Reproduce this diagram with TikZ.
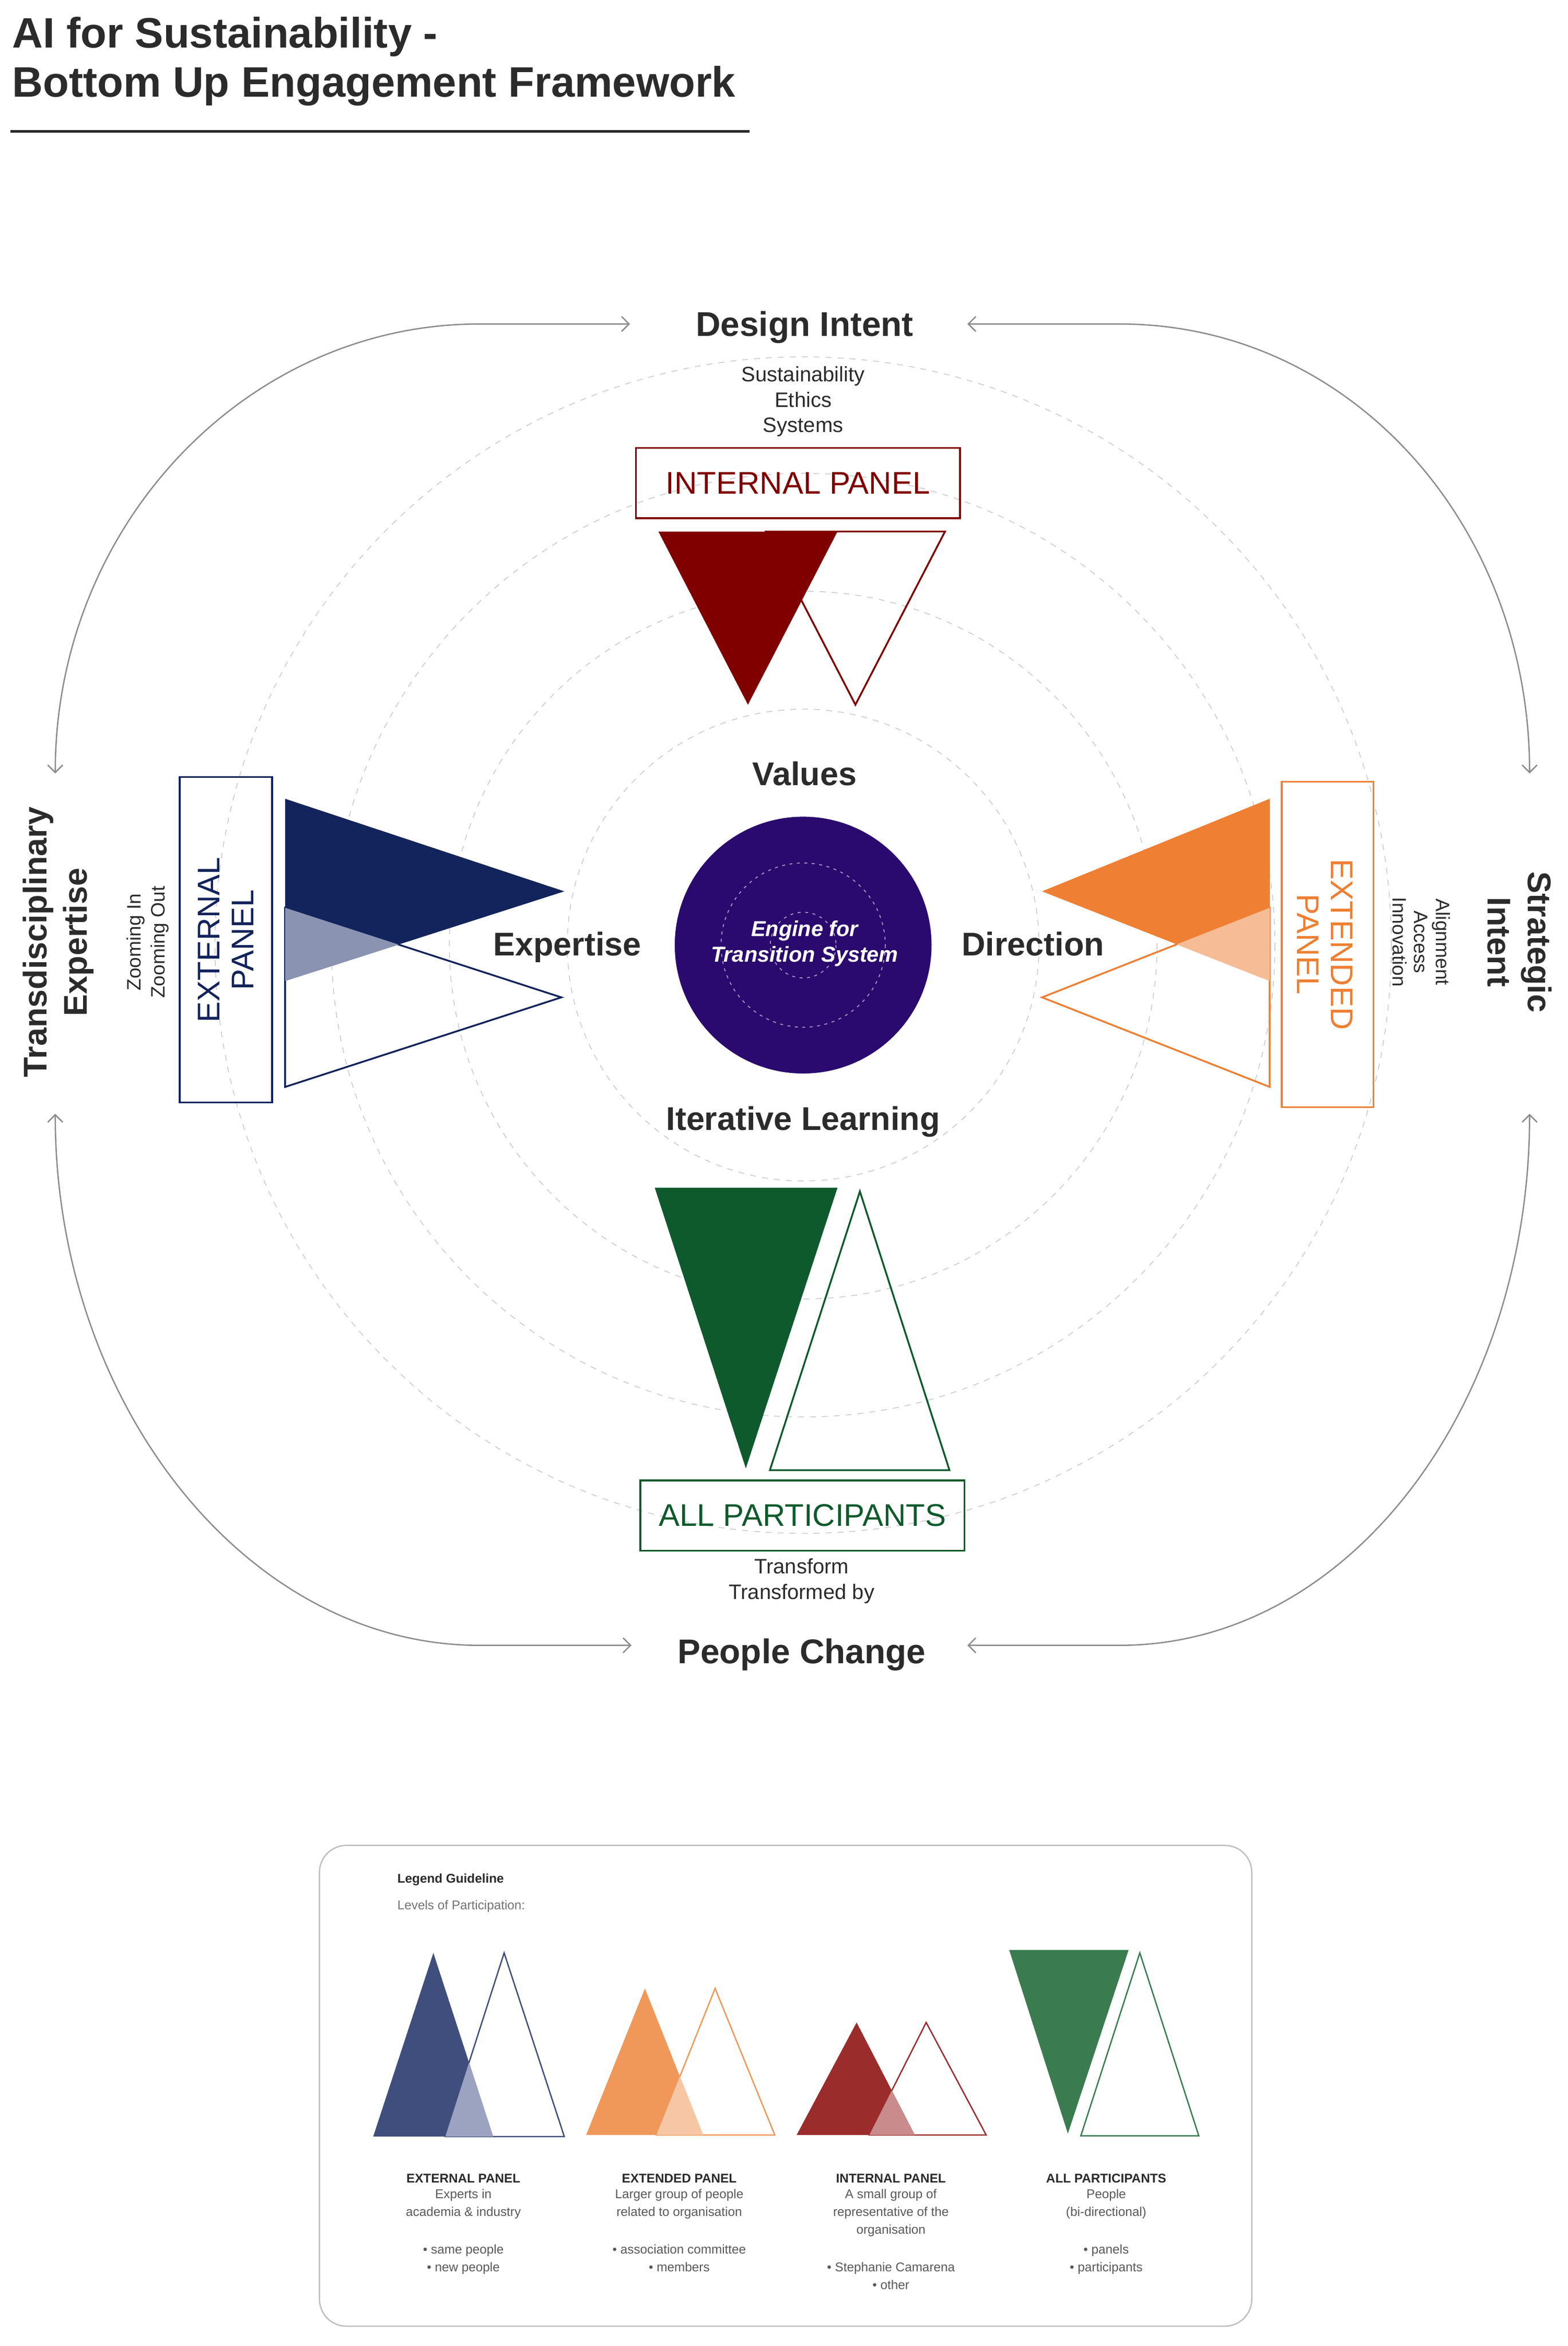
\documentclass[tikz,border=0pt]{standalone}
\usepackage{fontspec}
\setmainfont{Liberation Sans}
\usetikzlibrary{arrows.meta}
\definecolor{txt}{HTML}{2B2B2B}
\definecolor{navy}{HTML}{13235B}
\definecolor{navyl}{HTML}{8A93B1}
\definecolor{orng}{HTML}{EE7F33}
\definecolor{orngl}{HTML}{F6BC96}
\definecolor{dred}{HTML}{800000}
\definecolor{dgreen}{HTML}{0E5A2C}
\definecolor{purp}{HTML}{2A0A6E}
\definecolor{lnavy}{HTML}{3F4E7C}
\definecolor{lnavyl}{HTML}{9BA3C0}
\definecolor{lorng}{HTML}{F0985A}
\definecolor{lorngl}{HTML}{F7C7A5}
\definecolor{lred}{HTML}{9B2C2C}
\definecolor{lredl}{HTML}{C98B8B}
\definecolor{lgreen}{HTML}{3A7B50}
\definecolor{arrowc}{HTML}{8C8C8C}
\begin{document}
\begin{tikzpicture}[x=1pt,y=-1pt,
  ring/.style={draw=black!22,dash pattern=on 4pt off 4pt,line width=0.5pt},
  loop/.style={draw=arrowc,line width=0.9pt,{Straight Barb[length=5pt,width=10pt]}-{Straight Barb[length=5pt,width=10pt]}},
  big/.style={font=\fontsize{23}{24}\selectfont\bfseries,text=txt,inner sep=0pt},
  mid/.style={font=\fontsize{22}{23}\selectfont\bfseries,text=txt,inner sep=0pt},
  small/.style={font=\fontsize{14}{17}\selectfont,text=txt,align=center,inner sep=0pt},
  panel/.style={font=\fontsize{21}{23}\selectfont,align=center,inner sep=0pt},
  lhead/.style={font=\fontsize{8.5}{12}\selectfont\bfseries,text=txt,inner sep=0pt},
  lbody/.style={font=\fontsize{8.5}{12}\selectfont,text=black!65,align=center,inner sep=0pt,anchor=north},
]
\useasboundingbox (0,0) rectangle (1050,1571.3);
% title
\node[anchor=base west,font=\fontsize{28.5}{30}\selectfont\bfseries,text=txt,inner sep=0pt] (t1) at (8,32) {AI for Sustainability -};
\node[anchor=base west,font=\fontsize{28.5}{30}\selectfont\bfseries,text=txt,inner sep=0pt] (t2) at (8,65) {Bottom Up Engagement Framework};
\draw[txt,line width=2pt] (7,88) -- (502,88);
% rings
\coordinate (c) at (538,633);
\foreach \r in {158,237,316,394} \draw[ring] (c) circle[radius=\r];
% outer loops
\coordinate (tlA) at (37,518); \coordinate (tlB) at (422,217);
\coordinate (trA) at (1024.6,518); \coordinate (trB) at (648,217);
\coordinate (blA) at (37,746); \coordinate (blB) at (423,1102);
\coordinate (brA) at (1024.6,746); \coordinate (brB) at (648,1102);
\draw[loop] (tlA) .. controls (37,352) and (165,217) .. (321,217) -- (tlB);
\draw[loop] (trA) .. controls (1024.6,352) and (905,217) .. (750,217) -- (trB);
\draw[loop] (blA) .. controls (37,940) and (165,1102) .. (321,1102) -- (blB);
\draw[loop] (brA) .. controls (1024.6,940) and (905,1102) .. (750,1102) -- (brB);
% top
\node[big,anchor=base] (di) at (539,225) {Design Intent};
\node[small] (sus) at (538,269) {Sustainability\\Ethics\\Systems};
\node[draw=dred,line width=1.2pt,minimum width=217pt,minimum height=47pt,panel,text=dred] (ip) at (534.5,323.5) {INTERNAL PANEL};
\draw[dred,line width=1.2pt] (513,356) -- (633,356) -- (573,472) -- cycle;
\fill[dred] (441,356) -- (561,356) -- (501,472) -- cycle;
% center
\node[circle,fill=purp,minimum size=172pt,inner sep=0pt] (eng) at (c) {};
\draw[white!60!purp,dash pattern=on 2pt off 3pt,line width=0.6pt] (c) circle[radius=55];
\draw[white!60!purp,dash pattern=on 2pt off 3pt,line width=0.6pt] (c) circle[radius=22];
\node[font=\fontsize{14.5}{17}\selectfont\bfseries\itshape,text=white,align=center,inner sep=0pt] (engt) at (539,632) {Engine for\\Transition System};
\node[mid,anchor=base] (val) at (539,526) {Values};
\node[mid,anchor=base] (exp) at (380,640) {Expertise};
\node[mid,anchor=base] (dir) at (692,640) {Direction};
\node[mid,anchor=base] (itl) at (538,757) {Iterative Learning};
% left external
\node[draw=navy,line width=1.2pt,minimum width=62pt,minimum height=218pt] (ep) at (151.3,629.5) {};
\node[panel,text=navy,rotate=90] (ept) at (151.3,629.5) {EXTERNAL\\PANEL};
\draw[navy,line width=1.2pt] (191,608) -- (376,668) -- (191,728) -- cycle;
\fill[navy] (191,535) -- (378,597) -- (191,657) -- cycle;
\begin{scope}
\clip (191,608) -- (376,668) -- (191,728) -- cycle;
\fill[navyl] (191,535) -- (378,597) -- (191,657) -- cycle;
\end{scope}
\node[font=\fontsize{13}{16}\selectfont,text=txt,rotate=90,align=center,inner sep=0pt] (zoom) at (99,631) {Zooming In\\Zooming Out};
\node[font=\fontsize{22}{27}\selectfont\bfseries,text=txt,rotate=90,align=center,inner sep=0pt] (tde) at (39,631) {Transdisciplinary\\Expertise};
% right extended
\node[draw=orng,line width=1.2pt,minimum width=61.4pt,minimum height=218pt] (xp) at (889.3,632.6) {};
\node[panel,text=orng,rotate=-90] (xpt) at (887.5,632.6) {EXTENDED\\PANEL};
\draw[orng,line width=1.2pt] (850.5,608) -- (698,668) -- (850.5,728) -- cycle;
\fill[orng] (850.5,535) -- (698,597) -- (850.5,657) -- cycle;
\begin{scope}
\clip (850.5,608) -- (698,668) -- (850.5,728) -- cycle;
\fill[orngl] (850.5,535) -- (698,597) -- (850.5,657) -- cycle;
\end{scope}
\node[font=\fontsize{13}{14.5}\selectfont,text=txt,rotate=-90,align=center,inner sep=0pt] (aai) at (952,631) {Alignment\\Access\\Innovation};
\node[font=\fontsize{22}{27}\selectfont\bfseries,text=txt,rotate=-90,align=center,inner sep=0pt] (si) at (1018,631) {Strategic\\Intent};
% bottom
\fill[dgreen] (438.6,795.5) -- (561,795.5) -- (499.6,983.5) -- cycle;
\draw[dgreen,line width=1.2pt] (576,798) -- (636,984.7) -- (515.7,984.7) -- cycle;
\node[draw=dgreen,line width=1.2pt,minimum width=217pt,minimum height=47pt,panel,text=dgreen] (ap) at (537.5,1015) {ALL PARTICIPANTS};
\node[small] (tr) at (537,1059) {Transform\\Transformed by};
\node[big,anchor=base] (pc) at (537,1114) {People Change};
% legend
\draw[black!25,line width=0.9pt,rounded corners=18pt] (214,1236) rectangle (838.5,1558);
\node[lhead,anchor=base west] (lg) at (266,1261) {Legend Guideline};
\node[font=\fontsize{8.5}{10}\selectfont,text=black!55,anchor=base west,inner sep=0pt] (lv) at (266,1279) {Levels of Participation:};
% blue
\draw[lnavy,line width=0.9pt] (298.3,1431) -- (337.7,1308) -- (378,1431) -- cycle;
\fill[lnavy] (250,1431) -- (290.3,1308) -- (330.3,1431) -- cycle;
\begin{scope}\clip (298.3,1431) -- (337.7,1308) -- (378,1431) -- cycle;
\fill[lnavyl] (250,1431) -- (290.3,1308) -- (330.3,1431) -- cycle;\end{scope}
% orange
\draw[lorng,line width=0.9pt] (439.7,1430) -- (479,1331.8) -- (519,1430) -- cycle;
\fill[lorng] (392.6,1430) -- (432,1331.8) -- (471,1430) -- cycle;
\begin{scope}\clip (439.7,1430) -- (479,1331.8) -- (519,1430) -- cycle;
\fill[lorngl] (392.6,1430) -- (432,1331.8) -- (471,1430) -- cycle;\end{scope}
% red
\draw[lred,line width=0.9pt] (582.3,1430) -- (620.4,1354.6) -- (660.6,1430) -- cycle;
\fill[lred] (533.6,1430) -- (573.8,1354.6) -- (612.8,1430) -- cycle;
\begin{scope}\clip (582.3,1430) -- (620.4,1354.6) -- (660.6,1430) -- cycle;
\fill[lredl] (533.6,1430) -- (573.8,1354.6) -- (612.8,1430) -- cycle;\end{scope}
% green
\fill[lgreen] (676,1306) -- (756,1306) -- (715.3,1429) -- cycle;
\draw[lgreen,line width=0.9pt] (763.5,1308) -- (803,1430.5) -- (724,1430.5) -- cycle;
% legend labels
\node[lhead,anchor=base] (l1) at (310.4,1462) {EXTERNAL PANEL};
\node[lbody] (l1b) at (310.4,1466) {Experts in\\academia \& industry\\[13pt]• same people\\• new people};
\node[lhead,anchor=base] (l2) at (455,1462) {EXTENDED PANEL};
\node[lbody] (l2b) at (455,1466) {Larger group of people\\related to organisation\\[13pt]• association committee\\• members};
\node[lhead,anchor=base] (l3) at (596.8,1462) {INTERNAL PANEL};
\node[lbody] (l3b) at (596.8,1466) {A small group of\\representative of the\\organisation\\[13pt]• Stephanie Camarena\\• other};
\node[lhead,anchor=base] (l4) at (741,1462) {ALL PARTICIPANTS};
\node[lbody] (l4b) at (741,1466) {People\\(bi-directional)\\[13pt]• panels\\• participants};
\end{tikzpicture}
\end{document}
